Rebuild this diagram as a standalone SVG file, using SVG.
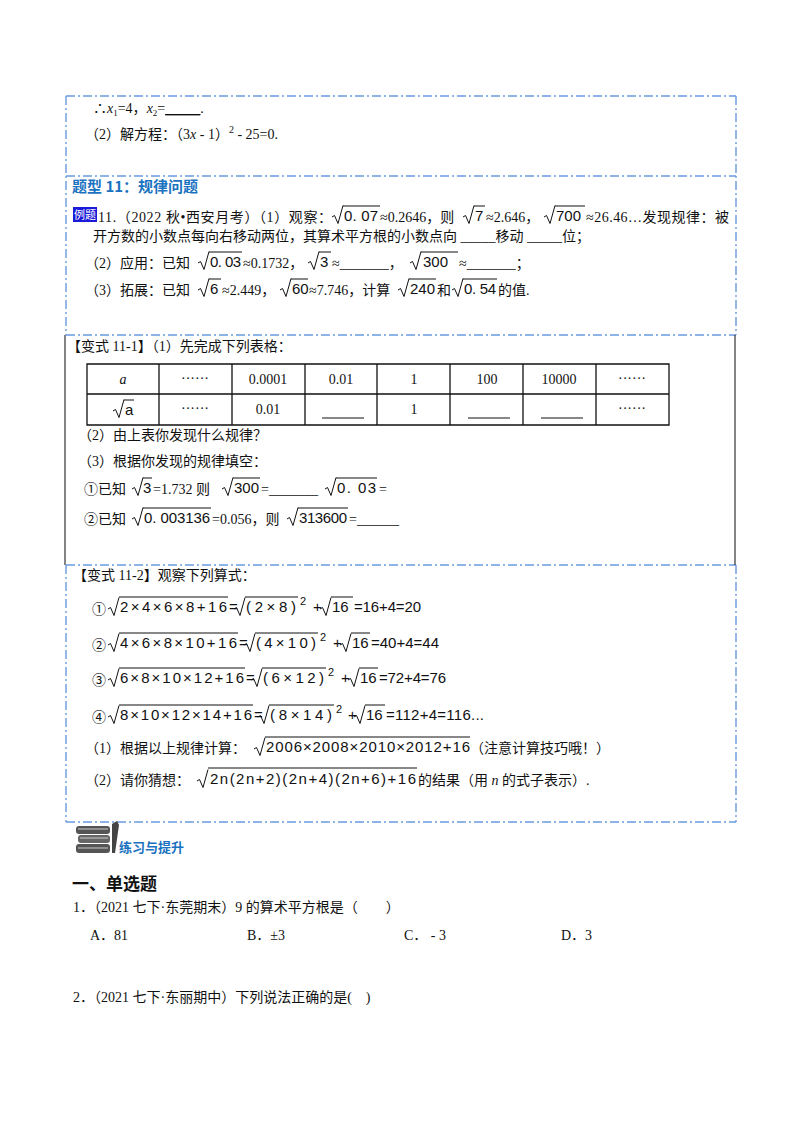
<svg xmlns="http://www.w3.org/2000/svg" width="800" height="1132" viewBox="0 0 800 1132">
<style>
text{font-family:"Liberation Serif","Noto Sans CJK SC",serif;font-size:14px;fill:#111}
.cn{font-family:"Noto Sans CJK SC","Liberation Serif",serif;font-size:14px}
.m{font-family:"Liberation Sans","DejaVu Sans",sans-serif;font-size:15px}
.sup{font-family:"Liberation Sans","DejaVu Sans",sans-serif;font-size:11px}
.bd{fill:none;stroke:#6a9be0;stroke-width:1.4;stroke-dasharray:9,3,2,3}
.sl{fill:none;stroke:#333;stroke-width:1.2}
.r{fill:none;stroke:#111;stroke-width:1}
.tb{fill:none;stroke:#111;stroke-width:1.3}
</style>
<defs>
<path id="rad" d="M0,-5 l2.5,-1.5 l3.5,8 l5,-18"/>
</defs>
<g id="borders">
<path class="bd" d="M66,96 H736 M66,96 V335 M736,96 V335 M66,176 H736 M66,335 H736 M66,565 H736 M66,565 V822 M736,565 V822 M66,822 H736"/>
<path class="sl" d="M65,335 V565 M735,335 V565"/>
</g>
<g id="box1">
<text x="93" y="113">∴<tspan font-style="italic">x</tspan><tspan font-size="9" dy="3">1</tspan><tspan dy="-3">=4，</tspan><tspan font-style="italic">x</tspan><tspan font-size="9" dy="3">2</tspan><tspan dy="-3">=</tspan><tspan text-decoration="underline">_____</tspan>.</text>
<text x="85" y="139">（2）解方程：（3<tspan font-style="italic">x</tspan> - 1）<tspan font-size="10" dy="-6">2</tspan><tspan dy="6"> - 25=0.</tspan></text>
</g>
<g id="heading11">
<text x="72" y="192" class="cn" style="font-size:15px;font-weight:bold;fill:#1a72c0">题型 11：规律问题</text>
</g>
<g id="example11">
<rect x="73" y="207" width="24" height="15" fill="#1a1ad8"/>
<text x="74" y="219" class="cn" style="font-size:11px;fill:#fff">例题</text>
<text x="98" y="222" textLength="234">11.（2022 秋•西安月考）（1）观察：</text>
<use href="#rad" x="332" y="222" class="r"/><path class="r" d="M343,206 H380"/><text x="344" y="221" class="m" textLength="34">0. 07</text>
<text x="380" y="222">≈0.2646，则</text>
<use href="#rad" x="463" y="222" class="r"/><path class="r" d="M474,206 H485"/><text x="475" y="221" class="m">7</text>
<text x="486" y="222">≈2.646，</text>
<use href="#rad" x="544" y="222" class="r"/><path class="r" d="M555,206 H585"/><text x="556" y="221" class="m">700</text>
<text x="586" y="222" textLength="143">≈26.46…发现规律：被</text>
<text x="93" y="241" textLength="497">开方数的小数点每向右移动两位，其算术平方根的小数点向 _____移动 _____位；</text>
<text x="85" y="268">（2）应用：已知</text>
<use href="#rad" x="198" y="268" class="r"/><path class="r" d="M209,252 H242"/><text x="210" y="267" class="m" textLength="31">0. 03</text>
<text x="243" y="268">≈0.1732，</text>
<use href="#rad" x="308" y="268" class="r"/><path class="r" d="M319,252 H331"/><text x="320" y="267" class="m">3</text>
<text x="332" y="268">≈_______，</text>
<use href="#rad" x="410" y="268" class="r"/><path class="r" d="M421,252 H458"/><text x="423" y="267" class="m">300</text>
<text x="459" y="268">≈_______；</text>
<text x="85" y="295">（3）拓展：已知</text>
<use href="#rad" x="198" y="295" class="r"/><path class="r" d="M209,279 H221"/><text x="210" y="294" class="m">6</text>
<text x="222" y="295">≈2.449，</text>
<use href="#rad" x="280" y="295" class="r"/><path class="r" d="M291,279 H308"/><text x="292" y="294" class="m">60</text>
<text x="309" y="295">≈7.746，计算</text>
<use href="#rad" x="398" y="295" class="r"/><path class="r" d="M409,279 H436"/><text x="410" y="294" class="m">240</text>
<text x="437" y="295">和</text>
<use href="#rad" x="452" y="295" class="r"/><path class="r" d="M463,279 H497"/><text x="464" y="294" class="m" textLength="32">0. 54</text>
<text x="498" y="295">的值.</text>
</g>
<g id="variant11-1">
<text x="67" y="351">【变式 11-1】（1）先完成下列表格：</text>
<path class="tb" d="M87,364 H669 V425 H87 Z M87,394 H669 M159,364 V425 M232,364 V425 M305,364 V425 M377,364 V425 M450,364 V425 M523,364 V425 M596,364 V425"/>
<g text-anchor="middle">
<text x="123" y="384" font-style="italic">a</text>
<text x="195" y="383">······</text><text x="268" y="384">0.0001</text><text x="341" y="384">0.01</text><text x="414" y="384">1</text><text x="487" y="384">100</text><text x="559" y="384">10000</text><text x="632" y="383">······</text>
<text x="195" y="413">······</text><text x="268" y="414">0.01</text><text x="414" y="414">1</text><text x="632" y="413">······</text>
</g>
<use href="#rad" x="113" y="416" class="r"/><path class="r" d="M124,400 H134"/><text x="125" y="415" class="m">a</text>
<path class="r" d="M322,418 H364 M468,418 H510 M541,418 H583"/>
<text x="78" y="440">（2）由上表你发现什么规律？</text>
<text x="78" y="466">（3）根据你发现的规律填空：</text>
<text x="84" y="494">①已知</text>
<use href="#rad" x="132" y="494" class="r"/><path class="r" d="M143,478 H152"/><text x="143" y="493" class="m">3</text>
<text x="153" y="494">=1.732 则</text>
<use href="#rad" x="222" y="494" class="r"/><path class="r" d="M233,478 H260"/><text x="234" y="493" class="m">300</text>
<text x="261" y="494">=_______</text>
<use href="#rad" x="325" y="494" class="r"/><path class="r" d="M336,478 H377"/><text x="337" y="493" class="m" textLength="39">0. 03</text>
<text x="379" y="494">=</text>
<text x="84" y="524">②已知</text>
<use href="#rad" x="132" y="524" class="r"/><path class="r" d="M143,508 H211"/><text x="144" y="523" class="m" textLength="66">0. 003136</text>
<text x="212" y="524">=0.056，则</text>
<use href="#rad" x="287" y="524" class="r"/><path class="r" d="M298,508 H348"/><text x="299" y="523" class="m" textLength="48">313600</text>
<text x="349" y="524">=______</text>
</g>
<g id="variant11-2">
<text x="73" y="580">【变式 11-2】观察下列算式：</text>
<text x="92" y="614">①</text>
<use href="#rad" x="108" y="614" class="r"/><path class="r" d="M119,597 H228"/><text x="120" y="612" class="m" textLength="107">2×4×6×8+16</text>
<text x="229" y="612" class="m">=</text>
<use href="#rad" x="234" y="614" class="r"/><path class="r" d="M245,597 H298"/><text x="246" y="612" class="m" textLength="50">(2×8)</text><text x="300" y="605" class="sup">2</text>
<text x="313" y="612" class="m">+</text>
<use href="#rad" x="320" y="614" class="r"/><path class="r" d="M331,597 H353"/><text x="332" y="612" class="m">16</text>
<text x="354" y="612" class="m" textLength="67">=16+4=20</text>
<text x="92" y="650">②</text>
<use href="#rad" x="108" y="650" class="r"/><path class="r" d="M119,633 H238"/><text x="120" y="648" class="m" textLength="117">4×6×8×10+16</text>
<text x="239" y="648" class="m">=</text>
<use href="#rad" x="244" y="650" class="r"/><path class="r" d="M255,633 H318"/><text x="256" y="648" class="m" textLength="60">(4×10)</text><text x="320" y="641" class="sup">2</text>
<text x="333" y="648" class="m">+</text>
<use href="#rad" x="340" y="650" class="r"/><path class="r" d="M351,633 H370"/><text x="352" y="648" class="m">16</text>
<text x="371" y="648" class="m" textLength="68">=40+4=44</text>
<text x="92" y="685">③</text>
<use href="#rad" x="108" y="685" class="r"/><path class="r" d="M119,668 H245"/><text x="120" y="683" class="m" textLength="124">6×8×10×12+16</text>
<text x="246" y="683" class="m">=</text>
<use href="#rad" x="251" y="685" class="r"/><path class="r" d="M262,668 H326"/><text x="263" y="683" class="m" textLength="61">(6×12)</text><text x="328" y="676" class="sup">2</text>
<text x="341" y="683" class="m">+</text>
<use href="#rad" x="348" y="685" class="r"/><path class="r" d="M359,668 H378"/><text x="360" y="683" class="m">16</text>
<text x="379" y="683" class="m" textLength="67">=72+4=76</text>
<text x="92" y="722">④</text>
<use href="#rad" x="108" y="722" class="r"/><path class="r" d="M119,705 H253"/><text x="120" y="720" class="m" textLength="132">8×10×12×14+16</text>
<text x="254" y="720" class="m">=</text>
<use href="#rad" x="258" y="722" class="r"/><path class="r" d="M269,705 H334"/><text x="270" y="720" class="m" textLength="62">(8×14)</text><text x="336" y="713" class="sup">2</text>
<text x="348" y="720" class="m">+</text>
<use href="#rad" x="354" y="722" class="r"/><path class="r" d="M365,705 H385"/><text x="366" y="720" class="m">16</text>
<text x="386" y="720" class="m" textLength="98">=112+4=116...</text>
<text x="85" y="753">（1）根据以上规律计算：</text>
<use href="#rad" x="254" y="754" class="r"/><path class="r" d="M265,737 H470"/><text x="266" y="752" class="m" textLength="204">2006×2008×2010×2012+16</text>
<text x="470" y="753">（注意计算技巧哦！）</text>
<text x="85" y="785">（2）请你猜想：</text>
<use href="#rad" x="197" y="786" class="r"/><path class="r" d="M208,768 H417"/><text x="210" y="784" class="m" textLength="206">2n(2n+2)(2n+4)(2n+6)+16</text>
<text x="418" y="785">的结果（用 <tspan font-style="italic">n</tspan> 的式子表示）.</text>
</g>
<g id="practice-icon">
<rect x="76" y="826" width="34" height="8" rx="3" fill="#555"/>
<rect x="78" y="835" width="32" height="8" rx="3" fill="#666"/>
<rect x="76" y="844" width="34" height="9" rx="3" fill="#555"/>
<path d="M78,829 h30 M80,838 h28 M78,848 h30" stroke="#ccc" stroke-width="1"/>
<path d="M112,824 l5,-3 l2,4 l-4,28 l-3,0 z" fill="#444"/>
<text x="119" y="852" class="cn" style="font-size:13px;font-weight:bold;fill:#1a72c0">练习与提升</text>
</g>
<g id="section1">
<text x="72" y="890" class="cn" style="font-size:17px;font-weight:bold">一、单选题</text>
<text x="73" y="912">1．（2021 七下·东莞期末）9 的算术平方根是（　　）</text>
<text x="90" y="940">A．81</text>
<text x="247" y="940">B．±3</text>
<text x="404" y="940">C． - 3</text>
<text x="561" y="940">D．3</text>
<text x="73" y="1002">2．（2021 七下·东丽期中）下列说法正确的是(　)</text>
</g>
</svg>
